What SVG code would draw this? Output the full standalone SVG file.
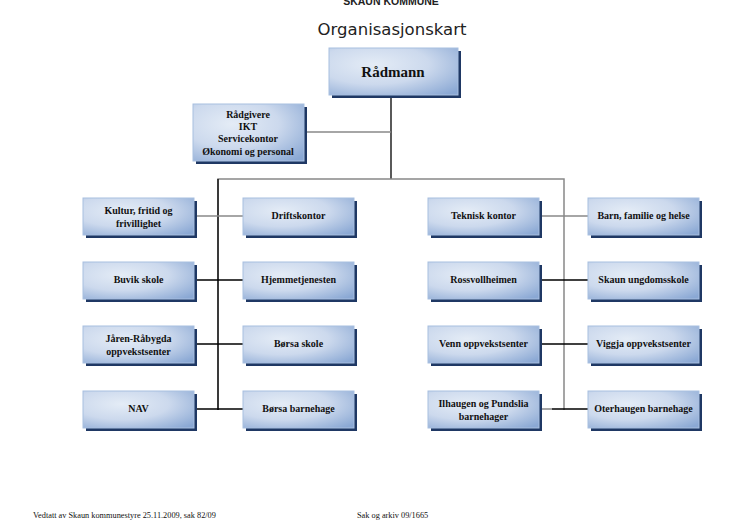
<svg xmlns="http://www.w3.org/2000/svg" width="737" height="529" viewBox="0 0 737 529">
<defs>
<radialGradient id="g" cx="0.35" cy="0.35" r="0.85">
<stop offset="0" stop-color="#e4ecf6"/>
<stop offset="0.5" stop-color="#ccd9ed"/>
<stop offset="1" stop-color="#8aa8d4"/>
</radialGradient>
</defs>
<style>
.sh{fill:#1f3864}
.bx{fill:url(#g);stroke:#a8bfe0;stroke-width:1}
.t{font-family:"Liberation Serif","Times New Roman",serif;font-weight:bold;font-size:10px;fill:#111;text-anchor:middle}
.big{font-size:15px}
.ln{stroke:#000;stroke-width:1.3;fill:none}
.lg{stroke:#888;stroke-width:1.5;fill:none}
.ft{font-family:"Liberation Serif","Times New Roman",serif;font-size:8.3px;fill:#111}
</style>
<rect width="737" height="529" fill="#fff"/>
<text x="391" y="5" font-family="'Liberation Sans',Arial,sans-serif" font-weight="bold" font-size="10.5" fill="#222" text-anchor="middle">SKAUN KOMMUNE</text>
<text x="392" y="35" font-family="'DejaVu Sans',Verdana,sans-serif" font-size="16.5" fill="#222" text-anchor="middle">Organisasjonskart</text>
<g id="connectors">
<line class="ln" x1="391" y1="95" x2="391" y2="179"/>
<line class="lg" x1="304" y1="132" x2="391" y2="132"/>
<polyline class="lg" points="218,410 218,179 564,179 564,410"/>
<line class="ln" x1="218" y1="179" x2="218" y2="410"/>
<line class="lg" x1="194" y1="216" x2="243" y2="216"/>
<line class="ln" x1="194" y1="280" x2="243" y2="280"/>
<line class="ln" x1="194" y1="344" x2="243" y2="344"/>
<line class="ln" x1="194" y1="409" x2="243" y2="409"/>
<line class="lg" x1="539" y1="216" x2="588" y2="216"/>
<line class="ln" x1="539" y1="280" x2="588" y2="280"/>
<line class="ln" x1="539" y1="344" x2="588" y2="344"/>
<line class="lg" x1="539" y1="409" x2="552" y2="409"/>
<line class="ln" x1="552" y1="409" x2="588" y2="409"/>
</g>
<g id="radmann"><rect class="sh" x="332" y="51" width="129" height="47"/><rect class="bx" x="329" y="48" width="129" height="47"/><text class="t big" x="393" y="77">Rådmann</text></g>
<g id="radgivere"><rect class="sh" x="196" y="107" width="111" height="57"/><rect class="bx" x="193" y="104" width="111" height="57"/><text class="t" x="248" y="118">Rådgivere</text><text class="t" x="248" y="130">IKT</text><text class="t" x="248" y="142">Servicekontor</text><text class="t" x="248" y="155">Økonomi og personal</text></g>
<g id="kultur"><rect class="sh" x="86" y="201" width="111" height="37"/><rect class="bx" x="83" y="198" width="111" height="37"/><text class="t" x="138.5" y="214">Kultur, fritid og</text><text class="t" x="138.5" y="227">frivillighet</text></g>
<g id="driftskontor"><rect class="sh" x="246" y="201" width="111" height="37"/><rect class="bx" x="243" y="198" width="111" height="37"/><text class="t" x="298.5" y="219">Driftskontor</text></g>
<g id="teknisk"><rect class="sh" x="431" y="201" width="111" height="37"/><rect class="bx" x="428" y="198" width="111" height="37"/><text class="t" x="483.5" y="219">Teknisk kontor</text></g>
<g id="barn"><rect class="sh" x="591" y="201" width="111" height="37"/><rect class="bx" x="588" y="198" width="111" height="37"/><text class="t" x="643.5" y="219">Barn, familie og helse</text></g>
<g id="buvik"><rect class="sh" x="86" y="265" width="111" height="37"/><rect class="bx" x="83" y="262" width="111" height="37"/><text class="t" x="138.5" y="283">Buvik skole</text></g>
<g id="hjemme"><rect class="sh" x="246" y="265" width="111" height="37"/><rect class="bx" x="243" y="262" width="111" height="37"/><text class="t" x="298.5" y="283">Hjemmetjenesten</text></g>
<g id="rossvoll"><rect class="sh" x="431" y="265" width="111" height="37"/><rect class="bx" x="428" y="262" width="111" height="37"/><text class="t" x="483.5" y="283">Rossvollheimen</text></g>
<g id="ungdom"><rect class="sh" x="591" y="265" width="111" height="37"/><rect class="bx" x="588" y="262" width="111" height="37"/><text class="t" x="643.5" y="283">Skaun ungdomsskole</text></g>
<g id="jaren"><rect class="sh" x="86" y="329" width="111" height="37"/><rect class="bx" x="83" y="326" width="111" height="37"/><text class="t" x="138.5" y="342">Jåren-Råbygda</text><text class="t" x="138.5" y="355">oppvekstsenter</text></g>
<g id="borsaskole"><rect class="sh" x="246" y="329" width="111" height="37"/><rect class="bx" x="243" y="326" width="111" height="37"/><text class="t" x="298.5" y="347">Børsa skole</text></g>
<g id="venn"><rect class="sh" x="431" y="329" width="111" height="37"/><rect class="bx" x="428" y="326" width="111" height="37"/><text class="t" x="483.5" y="347">Venn oppvekstsenter</text></g>
<g id="viggja"><rect class="sh" x="591" y="329" width="111" height="37"/><rect class="bx" x="588" y="326" width="111" height="37"/><text class="t" x="643.5" y="347">Viggja oppvekstsenter</text></g>
<g id="nav"><rect class="sh" x="86" y="394" width="111" height="37"/><rect class="bx" x="83" y="391" width="111" height="37"/><text class="t" x="138.5" y="412">NAV</text></g>
<g id="borsabh"><rect class="sh" x="246" y="394" width="111" height="37"/><rect class="bx" x="243" y="391" width="111" height="37"/><text class="t" x="298.5" y="412">Børsa barnehage</text></g>
<g id="ilhaugen"><rect class="sh" x="431" y="394" width="111" height="37"/><rect class="bx" x="428" y="391" width="111" height="37"/><text class="t" x="483.5" y="407">Ilhaugen og Pundslia</text><text class="t" x="483.5" y="420">barnehager</text></g>
<g id="oterhaugen"><rect class="sh" x="591" y="394" width="111" height="37"/><rect class="bx" x="588" y="391" width="111" height="37"/><text class="t" x="643.5" y="412">Oterhaugen barnehage</text></g>
<text class="ft" x="33" y="518">Vedtatt av Skaun kommunestyre 25.11.2009, sak 82/09</text>
<text class="ft" x="357" y="518">Sak og arkiv 09/1665</text>
</svg>
